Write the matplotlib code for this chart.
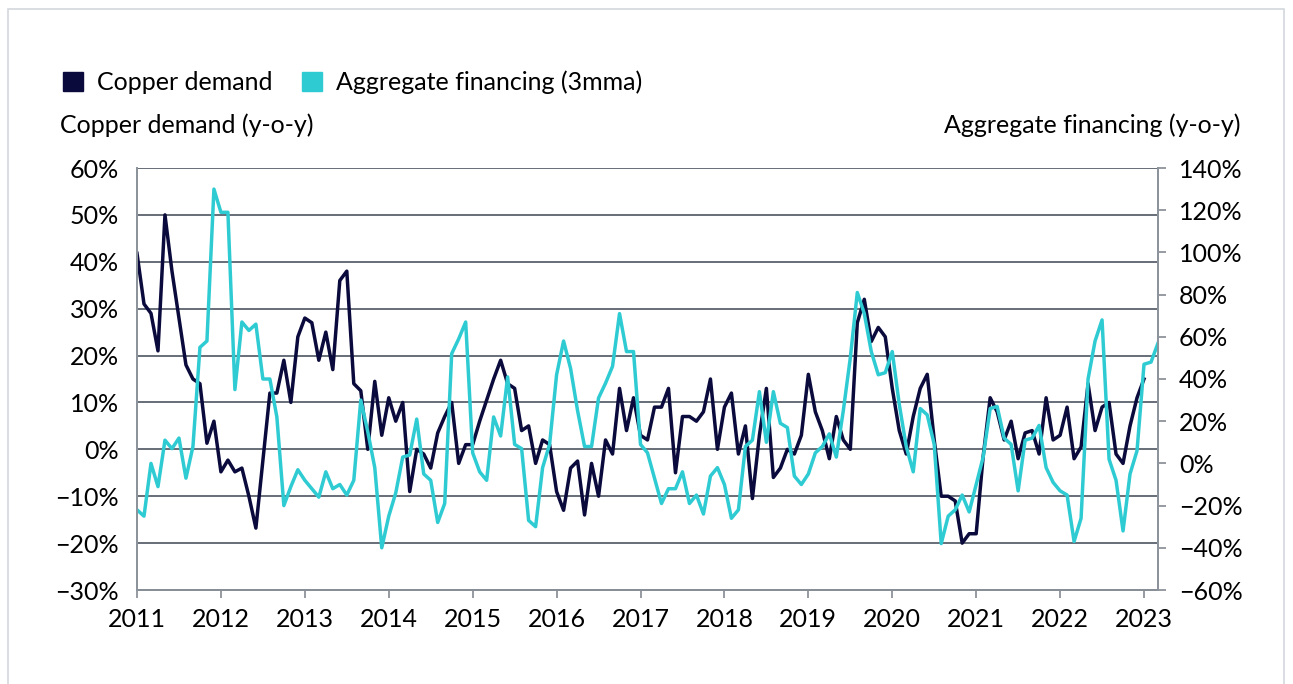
import matplotlib.pyplot as plt
import numpy as np
from matplotlib.patches import Patch, Rectangle
from matplotlib.ticker import FuncFormatter

plt.rcParams['font.family'] = ['Lato', 'DejaVu Sans']

# monthly values, Jan 2011 onwards (y-o-y, %)
copper_demand = [
    41.8, 31, 29, 21, 50, 38, 28, 18, 15, 14, 1.3, 6, -4.8,
    -2.3, -4.8, -4, -10, -16.8, -2.3, 12, 12, 19, 10, 24, 28,
    27, 19, 25, 17, 36, 38, 14, 12.5, 0, 14.5, 3, 11,
    6, 10, -9, 0, -1, -4, 3.5, 7, 10, -3, 1, 1,
    6, 10.5, 15, 19, 14, 13, 4, 5, -3, 2, 1, -9,
    -13, -4, -2.5, -14, -3, -10, 2, -1, 13, 4, 11, 3,
    2, 9, 9, 13, -5, 7, 7, 6, 8, 15, 0, 9,
    12, -1, 5, -10.5, 3, 13, -6, -4, 0, -1, 3, 16,
    8, 4, -2, 7, 2, 0, 27, 32, 23, 26, 24, 13,
    4, -1, 7, 13, 16, 2, -10, -10, -11, -20, -18, -18,
    -1.5, 11, 8, 2, 6, -2, 3.5, 4, -1, 11, 2, 3,
    9, -2, 0.5, 14, 4, 9, 10, -1, -3, 5, 11, 15,
]
agg_financing = [
    -22, -25, 0, -11, 11, 7, 12, -7, 8, 55, 58, 130, 119,
    119, 35, 67, 63, 66, 40, 40, 22, -20, -11, -3, -8,
    -12, -16, -4, -12, -10, -15, -8, 30, 15, -2, -40, -25,
    -14, 3, 4, 21, -5, -8, -28, -19, 52, 59, 67, 5,
    -4, -8, 22, 13, 41, 9, 7, -27, -30, -2, 9, 42,
    58, 45, 25, 8, 8, 31, 38, 46, 71, 53, 53, 9,
    5, -7, -19, -12, -12, -4, -19, -15, -24, -6, -2, -10,
    -26, -22, 8, 11, 34, 10, 34, 19, 17, -6, -10, -5,
    5, 8, 14, 3, 25, 50, 81, 71, 53, 42, 43, 53,
    28, 8, -4, 26, 23, 9, -38, -25, -22, -15, -23, -10,
    3, 26, 27, 12, 9, -13, 11, 12, 18, -2, -9, -13,
    -15, -37, -26, 40, 58, 68, 2, -8, -32, -5, 6, 47, 48, 57,
]
years = list(range(2011, 2024))

navy = '#0b0a3c'
cyan = '#2fcbd3'
grid_c = '#5b626c'
spine_c = '#8c939a'
fs = 18

x_cu = 2011 + np.arange(len(copper_demand)) / 12
x_af = 2011 + np.arange(len(agg_financing)) / 12

fig = plt.figure(figsize=(12.93, 6.84), dpi=100)
ax = fig.add_axes([137 / 1293, 1 - 590 / 684, (1158 - 137) / 1293, (590 - 168) / 684])
ax2 = ax.twinx()

ax.plot(x_cu, copper_demand, color=navy, lw=2.5, solid_joinstyle='round')
ax2.plot(x_af, agg_financing, color=cyan, lw=2.5, solid_joinstyle='round')

ax.set_xlim(2011, x_af[-1])
ax.set_ylim(-30, 60)
ax2.set_ylim(-60, 140)
ax.set_yticks(range(-30, 61, 10))
ax2.set_yticks(range(-60, 141, 20))
ax.set_xticks(years)

pct = FuncFormatter(lambda v, p: f"{v:.0f}%".replace('-', '\u2212'))
ax.yaxis.set_major_formatter(pct)
ax2.yaxis.set_major_formatter(pct)

ax.yaxis.grid(True, color=grid_c, lw=1.3)
ax.set_axisbelow(True)

for a in (ax, ax2):
    a.spines['top'].set_visible(False)
    for s in ('left', 'right', 'bottom'):
        a.spines[s].set_color(spine_c)
        a.spines[s].set_linewidth(1.3)
ax.spines['bottom'].set_color(grid_c)

ax.tick_params(axis='y', length=0, pad=13, labelsize=fs)
ax.tick_params(axis='x', length=6, width=1.3, color=spine_c, pad=7, labelsize=fs)
ax2.tick_params(axis='y', length=6, width=1.3, color=spine_c, pad=9, labelsize=fs)

handles = [Patch(color=navy, label='Copper demand'),
           Patch(color=cyan, label='Aggregate financing (3mma)')]
fig.legend(handles=handles, loc='center left', bbox_to_anchor=(53 / 1293, 1 - 82 / 684),
           ncol=2, frameon=False, fontsize=fs, handlelength=0.8, handleheight=0.8,
           handletextpad=0.55, columnspacing=1.2, borderaxespad=0)

fig.text(60 / 1293, 1 - 125 / 684, 'Copper demand (y-o-y)', fontsize=fs, va='center', ha='left')
fig.text(1240 / 1293, 1 - 125 / 684, 'Aggregate financing (y-o-y)', fontsize=fs, va='center', ha='right')

fig.patches.append(Rectangle((8 / 1293, -0.02), (1284 - 8) / 1293, 1 - 9 / 684 + 0.02,
                             transform=fig.transFigure, fill=False, ec='#d3d8de', lw=1.2))

fig.savefig('out.png', dpi=100)
